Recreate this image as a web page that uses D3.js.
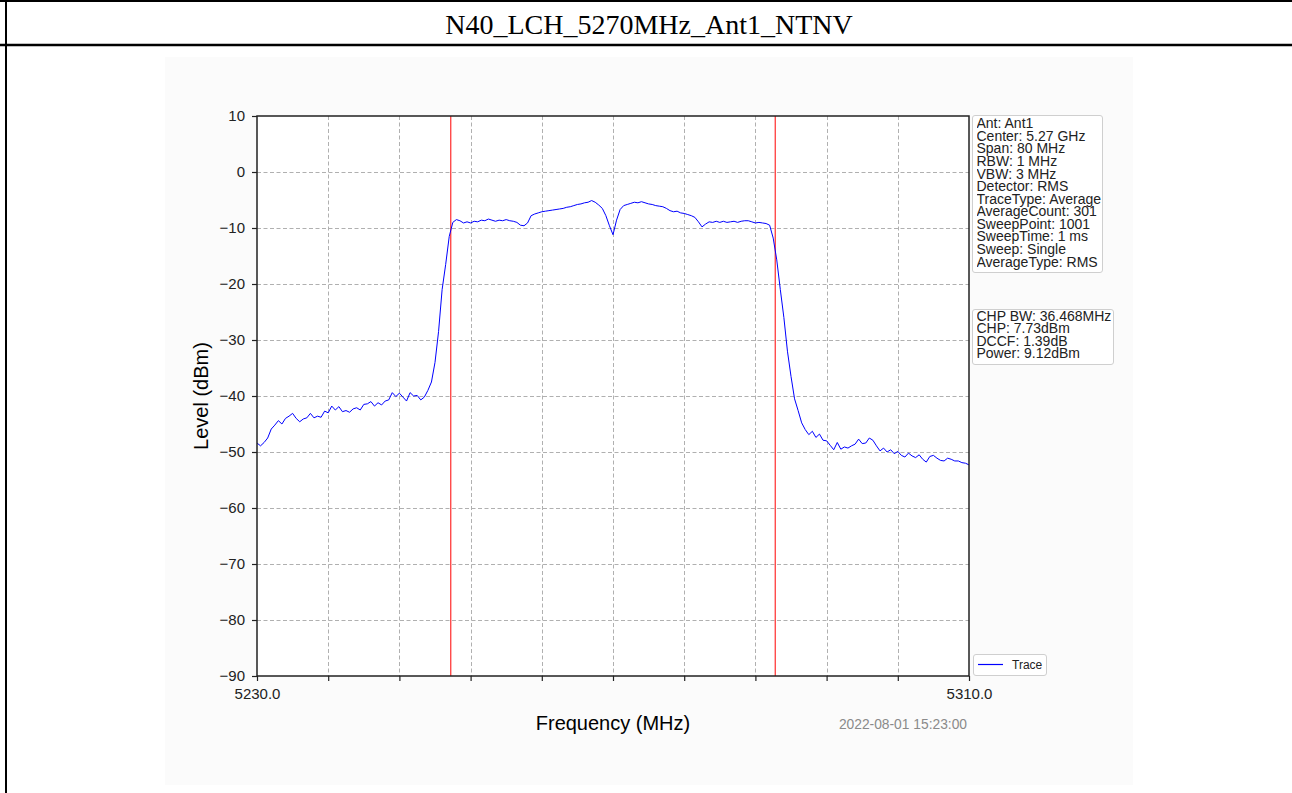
<!DOCTYPE html>
<html>
<head>
<meta charset="utf-8">
<script src="https://cdn.jsdelivr.net/npm/d3@7"></script>
<style>
  html, body { margin: 0; padding: 0; background: #ffffff; }
  svg { display: block; }
  .box-text { font-family: Arial, 'Liberation Sans', Helvetica, sans-serif; font-size: 14px; color: #222; white-space: pre; margin: 0; padding: 0; }
</style>
</head>
<body>
<svg id="chart" width="1292" height="793"></svg>
<script>
// Spectrum sweep: 5230 - 5310 MHz, levels sampled every 0.4 MHz
const sweepStart = 5230;
const sweepStep = 0.4;
const levels = [
  -48.4, -48.9, -48.3, -47.5, -45.9, -45.2, -44.4, -45.0, -44.0, -43.6,
  -43.1, -44.0, -44.6, -44.1, -43.9, -43.1, -43.9, -43.6, -43.8, -42.7,
  -43.0, -41.8, -42.5, -41.9, -42.8, -42.6, -42.9, -42.3, -42.1, -42.5,
  -41.5, -41.4, -41.0, -41.8, -41.2, -41.6, -40.9, -40.7, -39.4, -40.1,
  -39.5, -40.2, -40.9, -39.4, -40.0, -39.9, -40.7, -40.2, -39.0, -37.5,
  -34.0, -28.5, -21.0, -16.5, -11.5, -9.0, -8.5, -8.7, -9.1, -8.9,
  -9.1, -8.8, -8.9, -8.6, -8.7, -8.4, -8.6, -8.8, -8.6, -8.7,
  -8.5, -8.7, -8.8, -9.0, -9.5, -9.6, -9.1, -7.8, -7.5, -7.3,
  -7.1, -7.0, -6.9, -6.8, -6.7, -6.6, -6.5, -6.3, -6.2, -6.0,
  -5.8, -5.7, -5.5, -5.4, -5.1, -5.4, -5.9, -6.5, -7.8, -9.6,
  -11.2, -8.6, -6.7, -6.0, -5.8, -5.6, -5.4, -5.5, -5.3, -5.5,
  -5.7, -5.8, -6.0, -6.1, -6.2, -6.5, -6.9, -7.1, -7.0, -7.3,
  -7.4, -7.6, -7.8, -8.1, -8.9, -9.8, -9.3, -8.9, -9.0, -8.8,
  -9.0, -8.8, -9.0, -8.9, -8.8, -9.0, -8.8, -8.7, -8.7, -8.9,
  -9.1, -9.0, -9.1, -9.2, -9.5, -11.8, -15.7, -21.0, -26.0, -32.0,
  -36.5, -40.5, -42.6, -44.8, -46.0, -46.9, -46.3, -47.4, -46.8, -47.9,
  -48.0, -48.8, -49.6, -48.3, -49.5, -49.1, -49.3, -48.9, -48.6, -47.7,
  -48.5, -48.4, -47.5, -47.9, -48.9, -49.8, -49.3, -50.0, -49.6, -50.3,
  -49.9, -50.6, -50.9, -50.2, -50.7, -51.0, -50.5, -51.3, -51.8, -50.8,
  -50.6, -51.1, -51.5, -51.6, -51.1, -51.3, -51.6, -51.6, -51.9, -52.0, -52.3
];

// Channel power band edges (MHz)
const bandEdges = [5251.766, 5288.234];

// Axis ticks
const yTicks = [10, 0, -10, -20, -30, -40, -50, -60, -70, -80, -90];
const xTicks = [5230, 5238, 5246, 5254, 5262, 5270, 5278, 5286, 5294, 5302, 5310];
const xTickLabels = ["5230.0", "", "", "", "", "", "", "", "", "", "5310.0"];

// Annotation text
const titleText = "N40_LCH_5270MHz_Ant1_NTNV";
const settingsLines = [
  "Ant: Ant1", "Center: 5.27 GHz", "Span: 80 MHz", "RBW: 1 MHz", "VBW: 3 MHz",
  "Detector: RMS", "TraceType: Average", "AverageCount: 301", "SweepPoint: 1001",
  "SweepTime: 1 ms", "Sweep: Single", "AverageType: RMS"
];
const resultLines = ["CHP BW: 36.468MHz", "CHP: 7.73dBm", "DCCF: 1.39dB", "Power: 9.12dBm"];
const legendLabel = "Trace";
const timestamp = "2022-08-01 15:23:00";

const data = levels.map((v, i) => ({ f: sweepStart + i * sweepStep, v }));

const svg = d3.select("#chart");
const font = "Arial, 'Liberation Sans', Helvetica, sans-serif";

// Page frame and title cell
svg.append("rect").attr("x", 165).attr("y", 57).attr("width", 968).attr("height", 728).attr("fill", "#fbfbfb");
svg.append("line").attr("x1", 0).attr("x2", 1292).attr("y1", 1).attr("y2", 1).attr("stroke", "#000").attr("stroke-width", 2);
svg.append("line").attr("x1", 0).attr("x2", 1292).attr("y1", 45).attr("y2", 45).attr("stroke", "#000").attr("stroke-width", 2.5);
svg.append("line").attr("x1", 6).attr("x2", 6).attr("y1", 0).attr("y2", 793).attr("stroke", "#000").attr("stroke-width", 2);
svg.append("text").attr("x", 649).attr("y", 34).attr("text-anchor", "middle")
  .attr("font-family", "'Liberation Serif', 'Times New Roman', serif").attr("font-size", 28)
  .attr("fill", "#000").text(titleText);

// Plot area
const L = 257, R = 969, T = 116, B = 676;
const x = d3.scaleLinear().domain([5230, 5310]).range([L, R]);
const y = d3.scaleLinear().domain([-90, 10]).range([B, T]);

svg.append("rect").attr("x", L).attr("y", T).attr("width", R - L).attr("height", B - T).attr("fill", "#ffffff");

// Grid
const grid = svg.append("g").attr("stroke", "#b0b0b0").attr("stroke-width", 1).attr("stroke-dasharray", "4,2.5");
grid.selectAll(".gx").data(xTicks.slice(1, -1)).join("line")
  .attr("x1", d => Math.round(x(d)) + 0.5).attr("x2", d => Math.round(x(d)) + 0.5)
  .attr("y1", T).attr("y2", B);
grid.selectAll(".gy").data(yTicks.slice(1, -1)).join("line")
  .attr("y1", d => Math.round(y(d)) + 0.5).attr("y2", d => Math.round(y(d)) + 0.5)
  .attr("x1", L).attr("x2", R);

// Band edge markers
svg.selectAll(".edge").data(bandEdges).join("line")
  .attr("x1", d => x(d)).attr("x2", d => x(d)).attr("y1", T).attr("y2", B)
  .attr("stroke", "#ff4a4a").attr("stroke-width", 1.4);

// Trace
const line = d3.line().x(d => x(d.f)).y(d => y(d.v));
svg.append("path").datum(data).attr("d", line)
  .attr("fill", "none").attr("stroke", "#0000ff").attr("stroke-width", 1).attr("stroke-linejoin", "round");

// Axes
const yAxis = d3.axisLeft(y).tickValues(yTicks).tickSize(5).tickPadding(7)
  .tickFormat(d => d3.format("")(d));
const xAxis = d3.axisBottom(x).tickValues(xTicks).tickSize(5).tickPadding(7)
  .tickFormat((d, i) => xTickLabels[i]);

const gy = svg.append("g").attr("transform", `translate(${L},0)`).call(yAxis);
const gx = svg.append("g").attr("transform", `translate(0,${B})`).call(xAxis);
[gx, gy].forEach(g => {
  g.select(".domain").remove();
  g.selectAll(".tick line").attr("stroke", "#222").attr("stroke-width", 1.2);
  g.selectAll(".tick text").attr("font-family", font).attr("font-size", 15).attr("fill", "#222");
});

// Spines
svg.append("rect").attr("x", L).attr("y", T).attr("width", R - L).attr("height", B - T)
  .attr("fill", "none").attr("stroke", "#222").attr("stroke-width", 1.5);

// Axis titles
svg.append("text").attr("transform", `translate(208,${(T + B) / 2}) rotate(-90)`)
  .attr("text-anchor", "middle").attr("font-family", font).attr("font-size", 20).attr("fill", "#000")
  .text("Level (dBm)");
svg.append("text").attr("x", (L + R) / 2).attr("y", 730).attr("text-anchor", "middle")
  .attr("font-family", font).attr("font-size", 20).attr("fill", "#000").text("Frequency (MHz)");
svg.append("text").attr("x", 967).attr("y", 729).attr("text-anchor", "end")
  .attr("font-family", font).attr("font-size", 13.8).attr("fill", "#8a8a8a").text(timestamp);

// Side boxes: a framed block of tightly spaced lines
function textBox(x0, y0, w, h, lines, textTop, lineHeight) {
  svg.append("rect").attr("x", x0).attr("y", y0).attr("width", w).attr("height", h)
    .attr("rx", 2.5).attr("fill", "#ffffff").attr("stroke", "#cfcfcf").attr("stroke-width", 1);
  svg.append("foreignObject").attr("x", x0 + 4).attr("y", textTop).attr("width", w - 2).attr("height", h)
    .append("xhtml:div").attr("class", "box-text").style("line-height", lineHeight + "px")
    .text(lines.join("\n"));
}
textBox(972.5, 115.5, 130, 157, settingsLines, 117.2, 12.58);
textBox(972.5, 309.5, 141, 55, resultLines, 309.9, 12.45);

// Legend
svg.append("rect").attr("x", 973.5).attr("y", 654.5).attr("width", 73).attr("height", 21)
  .attr("rx", 2.5).attr("fill", "#ffffff").attr("stroke", "#cfcfcf").attr("stroke-width", 1);
svg.append("line").attr("x1", 978).attr("x2", 1003).attr("y1", 664.5).attr("y2", 664.5)
  .attr("stroke", "#0000ff").attr("stroke-width", 1.2);
svg.append("text").attr("x", 1012).attr("y", 669).attr("font-family", font).attr("font-size", 12)
  .attr("fill", "#222").text(legendLabel);
</script>
</body>
</html>
